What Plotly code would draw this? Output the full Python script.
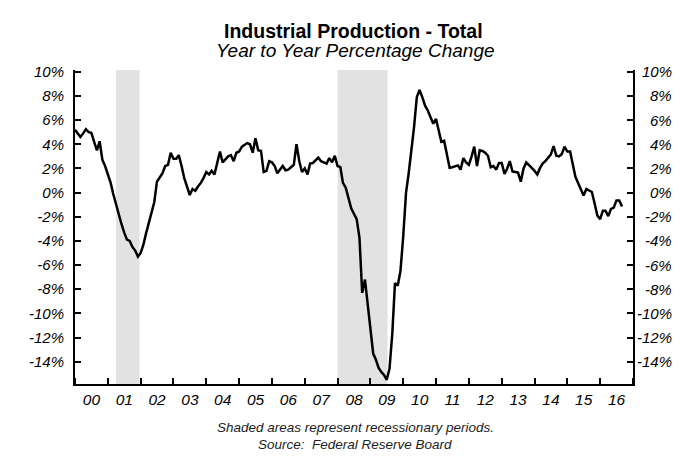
import pandas as pd
import plotly.graph_objects as go

# ---------------- data ----------------
start_month = "2000-01-01"

ip_2000 = [5.2, 4.9, 4.6, 4.9, 5.25, 5.0, 4.95, 4.2, 3.5, 4.25, 2.7, 2.2]
ip_2001 = [1.5, 0.8, -0.1, -1.0, -1.8, -2.6, -3.3, -3.9, -4.0, -4.5, -4.8, -5.3]
ip_2002 = [-5.0, -4.3, -3.4, -2.5, -1.7, -0.8, 0.9, 1.3, 1.6, 2.2, 2.3, 3.3]
ip_2003 = [2.8, 2.8, 3.1, 2.2, 1.2, 0.5, -0.2, 0.3, 0.15, 0.5, 0.8, 1.2]
ip_2004 = [1.7, 1.5, 1.8, 1.5, 2.4, 3.4, 2.5, 2.8, 3.0, 3.1, 2.6, 3.3]
ip_2005 = [3.4, 3.8, 3.95, 4.1, 4.0, 3.3, 4.5, 3.5, 3.45, 1.7, 1.8, 2.6]
ip_2006 = [2.5, 2.2, 1.6, 1.9, 2.2, 1.85, 1.9, 2.1, 2.3, 4.0, 2.6, 1.7]
ip_2007 = [2.0, 1.5, 2.4, 2.45, 2.7, 2.9, 2.6, 2.5, 2.4, 2.85, 2.5, 3.05]
ip_2008 = [2.2, 2.1, 0.8, 0.4, -0.45, -1.3, -1.75, -2.2, -3.75, -8.3, -7.2, -9.3]
ip_2009 = [-11.7, -13.35, -13.8, -14.5, -14.85, -15.1, -15.5, -14.6, -11.7, -7.5, -7.7, -6.5]
ip_2010 = [-3.6, 0.0, 1.5, 3.3, 5.4, 7.9, 8.5, 7.9, 7.2, 6.8, 6.3, 5.7]
ip_2011 = [6.1, 5.1, 4.2, 4.3, 3.2, 2.05, 2.1, 2.15, 2.25, 1.9, 2.85, 2.5]
ip_2012 = [2.3, 3.0, 3.8, 2.2, 3.5, 3.45, 3.3, 3.05, 2.1, 2.2, 1.9, 2.45]
ip_2013 = [2.45, 1.55, 1.95, 2.6, 1.75, 1.7, 1.65, 0.9, 2.0, 2.5, 2.3, 2.05]
ip_2014 = [1.8, 1.5, 2.0, 2.4, 2.6, 2.9, 3.15, 3.85, 3.05, 3.0, 3.2, 3.8]
ip_2015 = [3.4, 3.4, 2.3, 1.3, 0.8, 0.2, -0.25, 0.3, 0.2, 0.05, -0.9, -1.9]
ip_2016 = [-2.2, -1.5, -1.5, -1.95, -1.35, -1.25, -0.65, -0.65, -1.15]

ip_yoy = (ip_2000 + ip_2001 + ip_2002 + ip_2003 + ip_2004 + ip_2005 + ip_2006
          + ip_2007 + ip_2008 + ip_2009 + ip_2010 + ip_2011 + ip_2012 + ip_2013
          + ip_2014 + ip_2015 + ip_2016)

rec_start = ["2001-04-01", "2008-01-01"]
rec_end = ["2001-12-20", "2009-07-10"]

y_ticks = [10, 8, 6, 4, 2, 0, -2, -4, -6, -8, -10, -12, -14]
y_tick_labels = ["10%", "8%", "6%", "4%", "2%", "0%", "-2%", "-4%", "-6%",
                 "-8%", "-10%", "-12%", "-14%"]

title_text = "Industrial Production - Total"
subtitle_text = "Year to Year Percentage Change"
note_text = "Shaded areas represent recessionary periods."
source_text = "Source:  Federal Reserve Board"

# ---------------- figure ----------------
FONT = "Liberation Sans, Arial, Helvetica, sans-serif"
months = pd.date_range(start_month, periods=len(ip_yoy), freq="MS")

fig = go.Figure()
fig.add_trace(go.Scatter(
    x=months, y=ip_yoy, mode="lines",
    line=dict(color="black", width=2.5),
    showlegend=False, hoverinfo="skip",
))

annotations = []
for v, lab in zip(y_ticks, y_tick_labels):
    annotations.append(dict(
        x=1, xref="paper", xanchor="right", xshift=41,
        y=v, yref="y", yanchor="middle",
        text=lab, showarrow=False,
        font=dict(family=FONT, size=15, color="black", style="italic"),
    ))

annotations += [
    dict(x=0.4985, y=1.123, xref="paper", yref="paper", xanchor="center", yanchor="middle",
         text="<b>" + title_text + "</b>", showarrow=False,
         font=dict(family=FONT, size=19.5, color="black")),
    dict(x=0.502, y=1.061, xref="paper", yref="paper", xanchor="center", yanchor="middle",
         text=subtitle_text, showarrow=False,
         font=dict(family=FONT, size=19, color="black", style="italic")),
    dict(x=0.502, y=-0.1388, xref="paper", yref="paper", xanchor="center", yanchor="middle",
         text=note_text, showarrow=False,
         font=dict(family=FONT, size=13.5, color="#222222", style="italic")),
    dict(x=0.502, y=-0.193, xref="paper", yref="paper", xanchor="center", yanchor="middle",
         text=source_text, showarrow=False,
         font=dict(family=FONT, size=13.5, color="#222222", style="italic")),
]

fig.update_layout(
    width=699, height=470,
    margin=dict(l=67, r=74, t=62, b=94, pad=0),
    paper_bgcolor="white", plot_bgcolor="white",
    font=dict(family=FONT, color="black"),
    annotations=annotations,
    xaxis=dict(
        type="date", range=["2000-01-01", "2017-01-01"],
        tick0="2000-01-01", dtick="M12", tickformat="%y", ticklabelmode="period",
        ticks="inside", ticklen=6, tickwidth=1.5, tickcolor="black",
        showline=True, linecolor="black", linewidth=2,
        showgrid=False, zeroline=False,
        tickfont=dict(family=FONT, size=15.5, color="black", style="italic"),
    ),
    yaxis=dict(
        range=[-15.85, 10.15],
        tickmode="array", tickvals=y_ticks, ticktext=y_tick_labels,
        ticks="inside", ticklen=6, tickwidth=1.5, tickcolor="black",
        showline=True, linecolor="black", linewidth=2, mirror="ticks",
        showgrid=False, zeroline=False, ticklabelstandoff=6,
        tickfont=dict(family=FONT, size=15, color="black", style="italic"),
    ),
)

for s, e in zip(rec_start, rec_end):
    fig.add_vrect(x0=s, x1=e, fillcolor="#e2e2e2", opacity=1, line_width=0, layer="below")

fig.write_html("out.html")
